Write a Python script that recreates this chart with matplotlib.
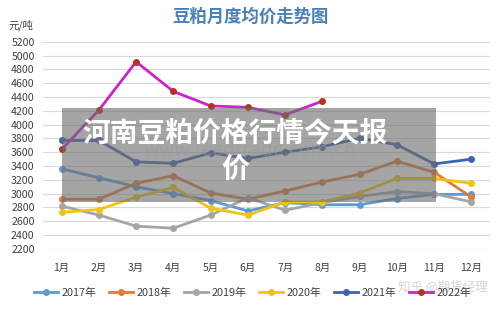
import matplotlib
matplotlib.use("Agg")
import matplotlib.pyplot as plt
from matplotlib.patches import Rectangle

plt.rcParams['font.family'] = ['Noto Sans CJK SC', 'DejaVu Sans']

months = ["1月", "2月", "3月", "4月", "5月", "6月", "7月", "8月", "9月", "10月", "11月", "12月"]
y2017 = [3360, 3230, 3100, 3000, 2900, 2750, 2870, 2840, 2840, 2930, 2990, 2990]
y2018 = [2920, 2920, 3150, 3260, 3010, 2920, 3040, 3170, 3280, 3470, 3310, 2950]
y2019 = [2820, 2690, 2530, 2500, 2690, 2940, 2760, 2870, 2960, 3030, 3000, 2880]
y2020 = [2730, 2770, 2950, 3090, 2790, 2690, 2880, 2880, 3010, 3220, 3220, 3150]
y2021 = [3770, 3770, 3460, 3440, 3590, 3510, 3600, 3680, 3800, 3710, 3430, 3500]
y2022 = [3640, 4210, 4910, 4480, 4270, 4250, 4140, 4340]
series_names = ["2017年", "2018年", "2019年", "2020年", "2021年", "2022年"]
yticks = list(range(2200, 5201, 200))

fig = plt.figure(figsize=(5, 3.1), dpi=100)
ax = fig.add_axes([0.086, 0.197, 0.894, 0.6685])

x = list(range(12))
styles = [
    (y2017, "#5b9bd5", "#5b9bd5"),
    (y2018, "#e07b39", "#e07b39"),
    (y2019, "#a5a5a5", "#a5a5a5"),
    (y2020, "#f2c314", "#f2c314"),
    (y2021, "#3f64ae", "#3f64ae"),
    (y2022, "#cc22cc", "#b8321e"),
]
for (vals, col, mcol), name in zip(styles, series_names):
    ax.plot(x[:len(vals)], vals, color=col, lw=2, marker='o', ms=4,
            mfc=mcol, mec=mcol, label=name, clip_on=False, zorder=3)

ax.set_xlim(-0.5, 11.5)
ax.set_ylim(2200, 5200)
ax.set_yticks(yticks)
ax.set_yticklabels([str(v) for v in yticks], fontsize=7.6, color="#404040")
ax.set_xticks(x)
ax.set_xticklabels(months, fontsize=7.5, color="#404040")
ax.tick_params(axis='both', length=0)
ax.tick_params(axis='x', pad=10)
ax.tick_params(axis='y', pad=6)
ax.grid(axis='y', color="#d9d9d9", lw=0.8)
for s in ax.spines.values():
    s.set_visible(False)
ax.set_axisbelow(True)

fig.text(0.50, 0.945, "豆粕月度均价走势图", ha='center', va='center',
         fontsize=12.5, color="#4a80b8", fontweight='bold')
fig.text(0.016, 0.918, "元/吨", ha='left', va='center', fontsize=7.5, color="#404040")

leg = fig.legend(loc='center', bbox_to_anchor=(0.505, 0.055), ncol=6, frameon=False,
                 fontsize=7.8, handlelength=2.2, handletextpad=0.3, columnspacing=1.2)
for t in leg.get_texts():
    t.set_color("#404040")

fig.text(0.885, 0.075, "知乎 @期货经理", ha='center', va='center', fontsize=9,
         color="#d0d0d0", alpha=0.9)

# overlay banner
fig.patches.append(Rectangle((62/500, 1-202/310), (436-62)/500, (202-108)/310,
                             transform=fig.transFigure, facecolor="#6e6e6e",
                             alpha=0.62, edgecolor='none', zorder=5))
fig.text(0.50, 1-150/310, "www.feedtrade.com.cn", ha='center', va='center',
         fontsize=14, color="#9a9a9a", alpha=0.5, zorder=5)
fig.text(0.47, 1-133/310, "河南豆粕价格行情今天报", ha='center', va='center',
         fontsize=20, color="white", fontweight='bold', zorder=6)
fig.text(0.47, 1-170/310, "价", ha='center', va='center',
         fontsize=20, color="white", fontweight='bold', zorder=6)

fig.savefig("out.png", dpi=100)
